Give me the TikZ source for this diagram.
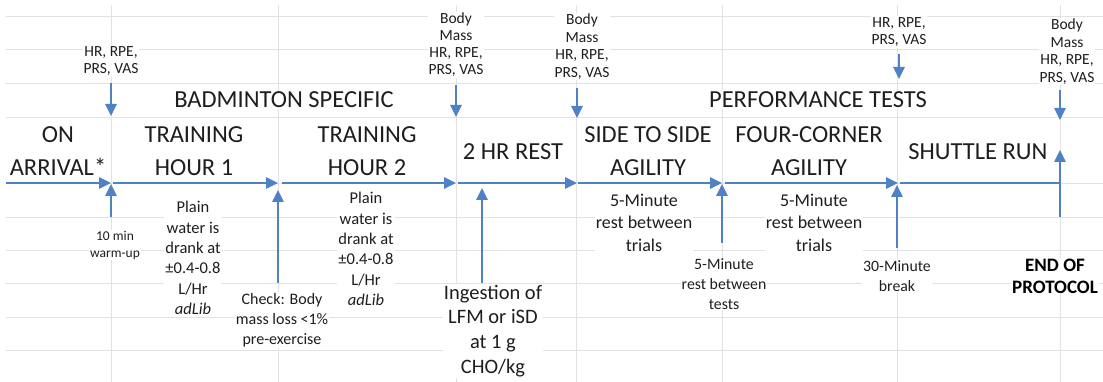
\documentclass[tikz,border=0pt]{standalone}
\usepackage{fontspec}
\setmainfont{Carlito}
\usetikzlibrary{arrows.meta}
\definecolor{arrowblue}{RGB}{79,129,199}
\definecolor{gridgray}{RGB}{226,226,226}
\definecolor{txt}{RGB}{30,30,30}
\begin{document}
\begin{tikzpicture}[x=1pt,y=-1pt,
  gridline/.style={draw=gridgray,line width=0.8pt},
  flow/.style={draw=arrowblue,line width=1.6pt,-{Triangle[length=12pt,width=11.5pt]}},
  plainline/.style={draw=arrowblue,line width=1.6pt},
  lbl/.style={align=center,fill=white,inner sep=1pt,text=txt},
  big/.style={lbl,font=\fontsize{24.5}{33}\selectfont},
  toplbl/.style={lbl,font=\fontsize{15.5}{17.5}\selectfont},
  water/.style={lbl,font=\fontsize{16.5}{20.3}\selectfont},
  rest/.style={lbl,font=\fontsize{18}{22.5}\selectfont},
  small/.style={lbl,font=\fontsize{15.8}{19.7}\selectfont}
]
\useasboundingbox[fill=white] (0,0) rectangle (1103,382);
% background grid
\foreach \gy in {16,49.5,83,117,183,217,250,283.5,317,350}
  \draw[gridline] (6,\gy) -- (1103,\gy);
\foreach \gx in {111,278,456,576,722,897,1060}
  \draw[gridline] (\gx,5) -- (\gx,382);

% top measurement labels
\node[toplbl] (t1) at (111,61) {HR, RPE,\\PRS, VAS};
\node[toplbl,font=\fontsize{15.5}{17}\selectfont] (t2) at (456,45) {Body\\Mass\\HR, RPE,\\PRS, VAS};
\node[toplbl] (t3) at (582,46.5) {Body\\Mass\\HR, RPE,\\PRS, VAS};
\node[toplbl] (t4) at (899,32) {HR, RPE,\\PRS, VAS};
\node[toplbl] (t5) at (1067,51.5) {Body\\Mass\\HR, RPE,\\PRS, VAS};

% headings
\node[big] (hbad) at (284,100) {BADMINTON SPECIFIC};
\node[big] (hperf) at (818,100) {PERFORMANCE TESTS};

% stages
\node[big] (s1) at (58,151) {ON\\ARRIVAL*};
\node[big] (s2) at (194,151) {TRAINING\\HOUR 1};
\node[big] (s3) at (367,151) {TRAINING\\HOUR 2};
\node[big] (s4) at (513,152) {2 HR REST};
\node[big] (s5) at (648,151) {SIDE TO SIDE\\AGILITY};
\node[big] (s6) at (809,151) {FOUR-CORNER\\AGILITY};
\node[big] (s7) at (978,152) {SHUTTLE RUN};

% lower notes
\node[lbl,font=\fontsize{13.5}{17}\selectfont] (b1) at (115,245) {10 min\\warm-up};
\node[water] (b2) at (193,258) {Plain\\water is\\drank at\\±0.4-0.8\\L/Hr\\\textit{adLib}};
\node[water,font=\fontsize{16}{20}\selectfont] (b3) at (282,320) {Check: Body\\mass loss <1\%\\pre-exercise};
\node[water] (b4) at (366,249) {Plain\\water is\\drank at\\±0.4-0.8\\L/Hr\\\textit{adLib}};
\node[lbl,font=\fontsize{20.5}{24.8}\selectfont] (b5) at (493,331) {Ingestion of\\LFM or iSD\\at 1 g\\CHO/kg};
\node[rest] (b6) at (644,222.5) {5-Minute\\rest between\\trials};
\node[small] (b7) at (724,284) {5-Minute\\rest between\\tests};
\node[rest] (b8) at (814,222.5) {5-Minute\\rest between\\trials};
\node[small] (b9) at (897,276) {30-Minute\\break};
\node[lbl,font=\bfseries\fontsize{19}{22}\selectfont,text=black] (b10) at (1055,276) {END OF\\PROTOCOL};

% main timeline
\coordinate (m0) at (6,183);
\coordinate (m1) at (111,183);
\coordinate (m2) at (278,183);
\coordinate (m3) at (456,183);
\coordinate (m4) at (577,183);
\coordinate (m5) at (722,183);
\coordinate (m6) at (898,183);
\coordinate (m7) at (1060,183);
\draw[flow] (m0) -- (m1);
\draw[flow] ([xshift=2pt]m1) -- (m2);
\draw[flow] ([xshift=4pt]m2) -- (m3);
\draw[flow] ([xshift=2pt]m3) -- (m4);
\draw[flow] ([xshift=1pt]m4) -- (m5);
\draw[flow] ([xshift=3pt]m5) -- (m6);
\draw[plainline] ([xshift=2pt]m6) -- (m7);

% arrows from below
\coordinate (u1a) at (111,217);   \coordinate (u1b) at (111,184);
\coordinate (u2a) at (278,283);   \coordinate (u2b) at (278,190);
\coordinate (u3a) at (482,283);   \coordinate (u3b) at (482,188);
\coordinate (u4a) at (722,243);   \coordinate (u4b) at (722,184);
\coordinate (u5a) at (897,248);   \coordinate (u5b) at (897,185);
\coordinate (u6a) at (1060,217);  \coordinate (u6b) at (1060,150);
\draw[flow] (u1a) -- (u1b);
\draw[flow] (u2a) -- (u2b);
\draw[flow] (u3a) -- (u3b);
\draw[flow] (u4a) -- (u4b);
\draw[flow] (u5a) -- (u5b);
\draw[flow] (u6a) -- (u6b);

% arrows from above
\coordinate (d1a) at (111,83);   \coordinate (d1b) at (111,116);
\coordinate (d2a) at (456,85);   \coordinate (d2b) at (456,117);
\coordinate (d3a) at (577,88);   \coordinate (d3b) at (577,118);
\coordinate (d4a) at (899,54);   \coordinate (d4b) at (899,79);
\coordinate (d5a) at (1060,90);  \coordinate (d5b) at (1060,120);
\draw[flow] (d1a) -- (d1b);
\draw[flow] (d2a) -- (d2b);
\draw[flow] (d3a) -- (d3b);
\draw[flow] (d4a) -- (d4b);
\draw[flow] (d5a) -- (d5b);
\end{tikzpicture}
\end{document}
